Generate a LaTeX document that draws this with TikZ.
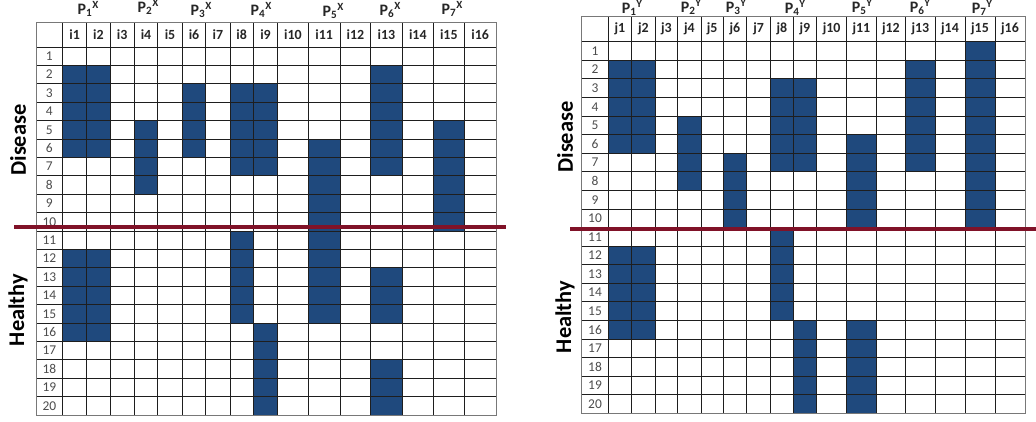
\documentclass[tikz,border=0pt]{standalone}
\usepackage{fontspec}
\setmainfont{Carlito}
\usetikzlibrary{calc}
\definecolor{cellblue}{RGB}{31,73,125}
\definecolor{sepred}{RGB}{128,18,40}
\definecolor{gridc}{RGB}{30,30,30}
\definecolor{borderc}{RGB}{120,120,120}
\newcommand\mktable[5]{%
  \foreach \xx [count=\ii] in {#2} {\coordinate (#1x\ii) at (\xx,0);}
  \coordinate (#1yh) at (0,#3);
  \foreach \rr in {0,...,20} {\coordinate (#1y\rr) at (0,#4+\rr*#5);}
}
\newcommand\fillcells[5]{%
  \pgfmathtruncatemacro\ca{#2+1}\pgfmathtruncatemacro\cb{#3+2}\pgfmathtruncatemacro\ra{#4-1}%
  \fill[cellc] (#1x\ca |- #1y\ra) rectangle (#1x\cb |- #1y#5);
}
\newcommand\drawgrid[2]{% #1 prefix, #2 column letter
  \foreach \rr in {0,...,20} {\draw[gridline] (#1x1 |- #1y\rr) -- (#1x18 |- #1y\rr);}
  \draw[gridline] (#1x1 |- #1yh) -- (#1x18 |- #1yh);
  \foreach \cc in {1,...,18} {\draw[gridline] (#1x\cc |- #1yh) -- (#1x\cc |- #1y20);}
  \draw[border] (#1x1 |- #1yh) rectangle (#1x18 |- #1y20);
  \foreach \kk in {1,...,16} {%
    \pgfmathtruncatemacro\ka{\kk+1}\pgfmathtruncatemacro\kb{\kk+2}%
    \node[colhead] (#1h\kk) at ($(#1x\ka |- #1yh)!0.5!(#1x\kb |- #1y0)$) {#2\kk};}
  \foreach \rr in {1,...,20} {%
    \pgfmathtruncatemacro\rp{\rr-1}%
    \node[rowhead] (#1r\rr) at ($(#1x1 |- #1y\rp)!0.5!(#1x2 |- #1y\rr)$) {\rr};}
}
\newcommand\plab[2]{P\textsubscript{#1}\raisebox{0.32em}{\fontsize{11}{11}\selectfont #2}}
\begin{document}
\begin{tikzpicture}[x=1bp,y=-1bp,
  cellc/.style={fill=cellblue},
  gridline/.style={draw=gridc,line width=0.8bp},
  border/.style={draw=borderc,line width=1bp},
  colhead/.style={font=\fontsize{14}{16}\selectfont\bfseries,inner sep=0pt,text=black!85},
  rowhead/.style={font=\fontsize{13.5}{15}\selectfont,text=black!70,inner sep=0pt},
  plabel/.style={font=\fontsize{16}{18}\selectfont\bfseries,anchor=base,inner sep=0pt,text=black!85},
  side/.style={font=\fontsize{22.5}{26}\selectfont\bfseries,rotate=90,inner sep=0pt},
  sepline/.style={draw=sepred,line width=4bp}]
\useasboundingbox (0,0) rectangle (1036,421);

% ---------- left table (X) ----------
\mktable{L}{36,62.7,86.7,110,134.3,157.7,182.3,205.7,230,253.3,277.7,308.3,340,370.7,402.3,433.3,464.3,496}{22}{47}{18.4}
\fillcells{L}{1}{2}{2}{6}
\fillcells{L}{1}{2}{12}{16}
\fillcells{L}{4}{4}{5}{8}
\fillcells{L}{6}{6}{3}{6}
\fillcells{L}{8}{9}{3}{7}
\fillcells{L}{8}{8}{11}{15}
\fillcells{L}{9}{9}{16}{20}
\fillcells{L}{11}{11}{6}{15}
\fillcells{L}{13}{13}{2}{7}
\fillcells{L}{13}{13}{13}{15}
\fillcells{L}{13}{13}{18}{20}
\fillcells{L}{15}{15}{5}{10}
\drawgrid{L}{i}

% ---------- right table (Y) ----------
\mktable{R}{581.7,608.3,631.7,655,677.7,701,723.3,746.7,770.7,793.3,816.7,846.7,876,905.7,935,965,995,1025}{16}{41.7}{18.58}
\fillcells{R}{1}{2}{2}{6}
\fillcells{R}{1}{2}{12}{16}
\fillcells{R}{4}{4}{5}{8}
\fillcells{R}{6}{6}{7}{10}
\fillcells{R}{8}{9}{3}{7}
\fillcells{R}{8}{8}{11}{15}
\fillcells{R}{9}{9}{16}{20}
\fillcells{R}{11}{11}{6}{10}
\fillcells{R}{11}{11}{16}{20}
\fillcells{R}{13}{13}{2}{7}
\fillcells{R}{15}{15}{1}{10}
\drawgrid{R}{j}

% ---------- separators ----------
\coordinate (sepLa) at (14,227);
\coordinate (sepLb) at (506,227);
\coordinate (sepRa) at (570,229);
\coordinate (sepRb) at (1036,229);
\draw[sepline] (sepLa) -- (sepLb);
\draw[sepline] (sepRa) -- (sepRb);

% ---------- side labels ----------
\node[side] (disL) at (18,140) {Disease};
\node[side] (heaL) at (18,310) {Healthy};
\node[side] (disR) at (565,137) {Disease};
\node[side] (heaR) at (565,317) {Healthy};

% ---------- P labels ----------
\node[plabel] (pX1) at (88,14)  {\plab{1}{X}};
\node[plabel] (pX2) at (148,12) {\plab{2}{X}};
\node[plabel] (pX3) at (201,15) {\plab{3}{X}};
\node[plabel] (pX4) at (261,15) {\plab{4}{X}};
\node[plabel] (pX5) at (333,16) {\plab{5}{X}};
\node[plabel] (pX6) at (390,15) {\plab{6}{X}};
\node[plabel] (pX7) at (452,14) {\plab{7}{X}};

\node[plabel] (pY1) at (632,13) {\plab{1}{Y}};
\node[plabel] (pY2) at (691,12) {\plab{2}{Y}};
\node[plabel] (pY3) at (736,12) {\plab{3}{Y}};
\node[plabel] (pY4) at (795,13) {\plab{4}{Y}};
\node[plabel] (pY5) at (862,12) {\plab{5}{Y}};
\node[plabel] (pY6) at (920,12) {\plab{6}{Y}};
\node[plabel] (pY7) at (982,13) {\plab{7}{Y}};
\end{tikzpicture}
\end{document}
